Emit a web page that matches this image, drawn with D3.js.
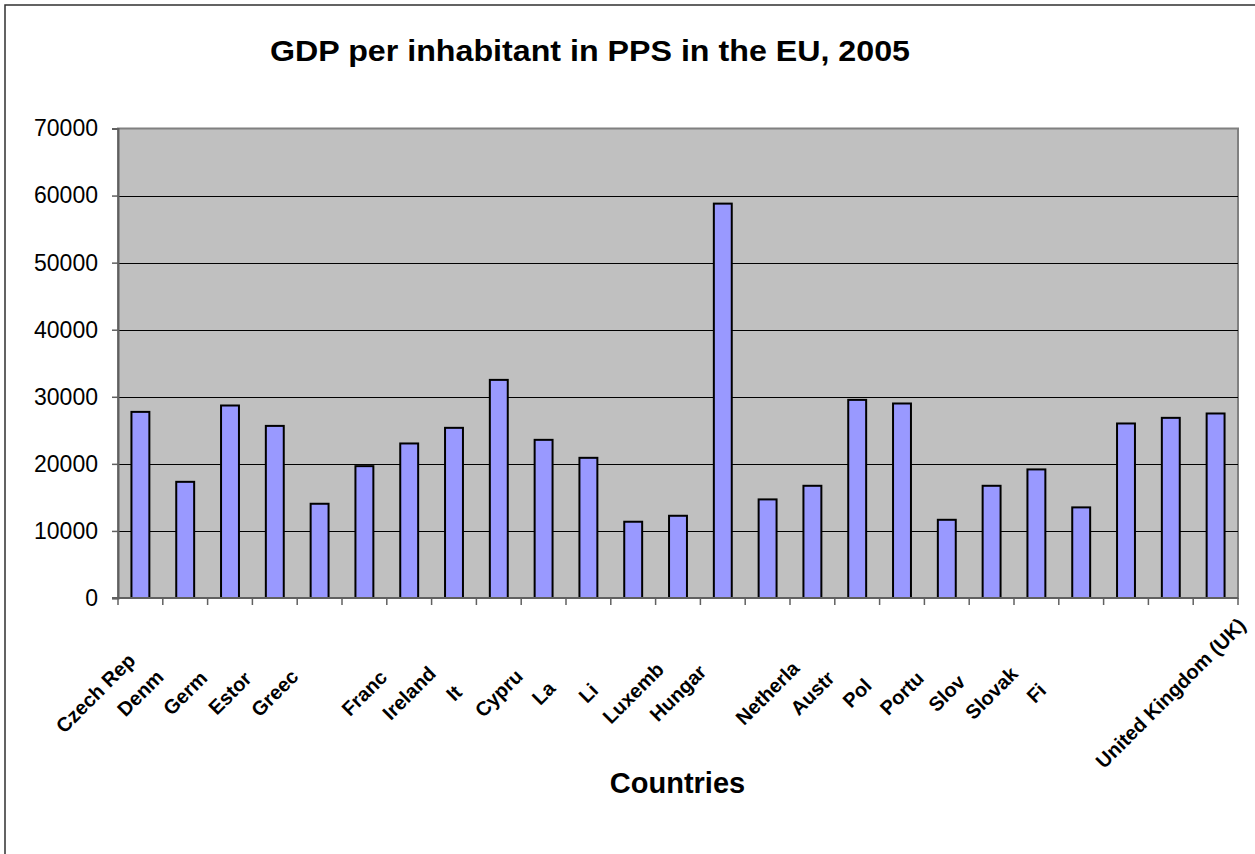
<!DOCTYPE html>
<html>
<head>
<meta charset="utf-8">
<script src="https://cdn.jsdelivr.net/npm/d3@7"></script>
<style>
  html, body { margin: 0; padding: 0; background: #fff; }
  svg { display: block; font-family: "Liberation Sans", Arial, sans-serif; }
</style>
</head>
<body>
<svg id="chart" width="1255" height="854"></svg>
<script>
// Category labels as they appear under the axis (blank where none is printed)
const labels = ["Czech Rep", "Denm", "Germ", "Estor", "Greec", "", "Franc", "Ireland", "It",
  "Cypru", "La", "Li", "Luxemb", "Hungar", "", "Netherla", "Austr", "Pol", "Portu",
  "Slov", "Slovak", "Fi", "", "", "United Kingdom (UK)"];

// GDP per inhabitant in PPS, 2005
const values = [27750, 17320, 28700, 25660, 14050, 19660, 23040, 25370, 32520, 23580,
  20900, 11370, 12260, 58800, 14700, 16730, 29540, 29000, 11660, 16730,
  19170, 13510, 26020, 26860, 27510];

const yTicks = [0, 10000, 20000, 30000, 40000, 50000, 60000, 70000];

const titleText = "GDP per inhabitant in PPS in the EU, 2005";
const xTitle = "Countries";

const svg = d3.select("#chart");

// outer chart frame
svg.append("rect")
  .attr("x", 5).attr("y", 5).attr("width", 1400).attr("height", 1000)
  .attr("fill", "#fff").attr("stroke", "#303030").attr("stroke-width", 1.5);

const plot = { left: 118, right: 1238, top: 128.5, bottom: 598 };

const x = d3.scaleBand()
  .domain(d3.range(values.length))
  .range([plot.left, plot.right])
  .paddingInner(0.6)
  .paddingOuter(0.3);

const y = d3.scaleLinear()
  .domain([0, 70000])
  .range([plot.bottom, plot.top]);

// plot background
svg.append("rect")
  .attr("x", plot.left).attr("y", plot.top)
  .attr("width", plot.right - plot.left).attr("height", plot.bottom - plot.top)
  .attr("fill", "#c0c0c0").attr("stroke", "#808080").attr("stroke-width", 2);

// horizontal gridlines
svg.append("g").selectAll("line")
  .data(yTicks.filter(d => d > 0 && d < 70000))
  .join("line")
  .attr("x1", plot.left).attr("x2", plot.right)
  .attr("y1", d => Math.round(y(d)) + 0.5).attr("y2", d => Math.round(y(d)) + 0.5)
  .attr("stroke", "#000").attr("stroke-width", 1);

// bars
svg.append("g").selectAll("rect")
  .data(values)
  .join("rect")
  .attr("x", (d, i) => x(i))
  .attr("y", d => y(d))
  .attr("width", x.bandwidth())
  .attr("height", d => y(0) - y(d))
  .attr("fill", "#9999ff")
  .attr("stroke", "#000")
  .attr("stroke-width", 2);

// y axis
const yAxis = svg.append("g")
  .attr("transform", `translate(${plot.left},0)`)
  .call(d3.axisLeft(y).tickValues(yTicks).tickFormat(d3.format("d")).tickSize(6).tickPadding(14));
yAxis.select(".domain").attr("stroke", "#606060").attr("stroke-width", 2);
yAxis.selectAll(".tick line").attr("stroke", "#606060").attr("stroke-width", 1.5);
yAxis.selectAll(".tick text")
  .attr("font-size", 23).attr("fill", "#000")
  .attr("font-family", "'Liberation Sans', Arial, sans-serif");

// x axis line and category boundary ticks
const step = x.step();
const edges = d3.range(values.length + 1).map(i => x(0) - x.paddingOuter() * step + i * step);
svg.append("line")
  .attr("x1", plot.left - 6).attr("x2", plot.right)
  .attr("y1", plot.bottom).attr("y2", plot.bottom)
  .attr("stroke", "#606060").attr("stroke-width", 2);
svg.append("g").selectAll("line")
  .data(edges)
  .join("line")
  .attr("x1", d => d).attr("x2", d => d)
  .attr("y1", plot.bottom).attr("y2", plot.bottom + 7)
  .attr("stroke", "#606060").attr("stroke-width", 1.5);

// rotated category labels
svg.append("g").selectAll("text")
  .data(labels)
  .join("text")
  .attr("transform", (d, i) => `translate(${x(i) + x.bandwidth() / 2 - 40},698) rotate(-45)`)
  .attr("text-anchor", "middle")
  .attr("font-size", 20)
  .attr("font-weight", "bold")
  .attr("fill", "#000")
  .text(d => d);

// title
svg.append("text")
  .attr("x", 590).attr("y", 61)
  .attr("text-anchor", "middle")
  .attr("font-size", 30).attr("font-weight", "bold")
  .attr("textLength", 640).attr("lengthAdjust", "spacingAndGlyphs")
  .text(titleText);

// x axis title
svg.append("text")
  .attr("x", 677.5).attr("y", 793)
  .attr("text-anchor", "middle")
  .attr("font-size", 29).attr("font-weight", "bold")
  .text(xTitle);
</script>
</body>
</html>
